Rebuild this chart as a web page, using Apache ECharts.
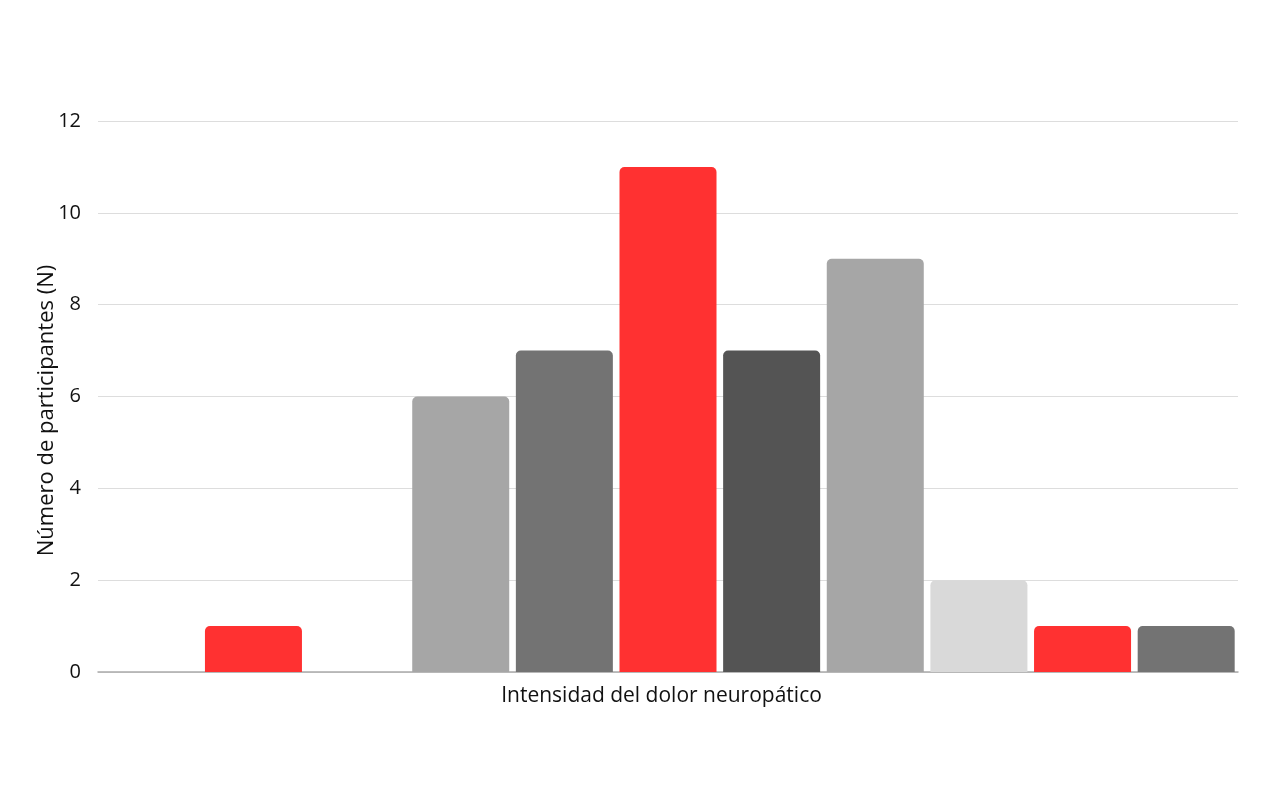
<!DOCTYPE html>
<html>
<head>
<meta charset="utf-8">
<script src="https://cdn.jsdelivr.net/npm/echarts@6/dist/echarts.min.js"></script>
<style>
  html, body { margin: 0; padding: 0; background: #fff; }
  #chart { width: 1276px; height: 793px; }
</style>
</head>
<body>
<div id="chart"></div>
<script>
// datos
const categories = ['0', '1', '2', '3', '4', '5', '6', '7', '8', '9', '10'];
const participantes = [0, 1, 0, 6, 7, 11, 7, 9, 2, 1, 1];
const barColors = ['#FF3131', '#FF3131', '#A6A6A6', '#A6A6A6', '#737373', '#FF3131',
                   '#545454', '#A6A6A6', '#D9D9D9', '#FF3131', '#737373'];

const chart = echarts.init(document.getElementById('chart'));

const option = {
    animation: false,
    textStyle: { fontFamily: 'Open Sans' },
    grid: { left: 98, right: 38, top: 121, bottom: 121 },
    xAxis: {
        type: 'category',
        data: categories,
        name: 'Intensidad del dolor neuropático',
        nameLocation: 'middle',
        nameGap: 14,
        nameTextStyle: { fontSize: 21, color: '#111', fontFamily: 'Open Sans', padding: [0, 13, 0, 0] },
        axisLine: { lineStyle: { color: '#AAAAAA', width: 1.5 } },
        axisTick: { show: false },
        axisLabel: { show: false }
    },
    yAxis: {
        type: 'value',
        min: 0,
        max: 12,
        interval: 2,
        name: 'Número de participantes (N)',
        nameLocation: 'middle',
        nameGap: 40,
        nameMoveOverlap: false,
        nameTextStyle: { fontSize: 22, color: '#111', fontFamily: 'Open Sans', padding: [0, 28, 0, 0] },
        axisLabel: { fontSize: 20, color: '#111', margin: 17 },
        axisLine: { show: false },
        axisTick: { show: false },
        splitLine: { lineStyle: { color: '#DDDDDD', width: 1 } }
    },
    series: [{
        type: 'bar',
        barCategoryGap: '6.4%',
        data: participantes.map((v, i) => ({
            value: v,
            itemStyle: { color: barColors[i] }
        })),
        itemStyle: { borderRadius: [5, 5, 0, 0] }
    }]
};

chart.setOption(option);
</script>
</body>
</html>
